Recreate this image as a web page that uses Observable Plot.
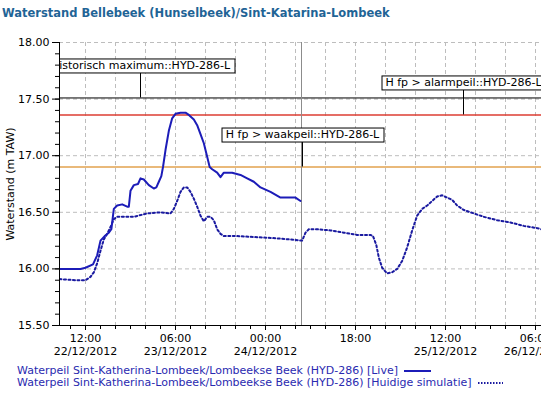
<!DOCTYPE html>
<html><head><meta charset="utf-8">
<script src="https://cdn.jsdelivr.net/npm/d3@7"></script>
<script src="https://cdn.jsdelivr.net/npm/@observablehq/plot@0.6"></script>
<style>
html,body{margin:0;padding:0;background:#fff;overflow:hidden;width:541px;height:394px;}
body{position:relative;font-family:"DejaVu Sans",Verdana,sans-serif;}
#title{position:absolute;left:2px;top:6px;font-size:11.5px;font-weight:bold;color:#1f6496;white-space:nowrap;}
#chart{position:absolute;left:0;top:28px;}
#legend{position:absolute;left:17px;top:365px;font-size:11px;color:#2a2ab0;line-height:12px;white-space:nowrap;}
#legend svg{vertical-align:middle;margin-left:6px;}
</style></head><body>
<div id="title"></div><div id="chart"></div><div id="legend"></div>
<script>
const title = "Waterstand Bellebeek (Hunselbeek)/Sint-Katarina-Lombeek";
const yLabel = "Waterstand (m TAW)";
const seriesNames = [
  "Waterpeil Sint-Katherina-Lombeek/Lombeekse Beek (HYD-286) [Live]",
  "Waterpeil Sint-Katherina-Lombeek/Lombeekse Beek (HYD-286) [Huidige simulatie]"
];
const seriesColors = ["#1c1cb8", "#1a1aa0"];

const liveTime = ["2012-12-22T06:48","2012-12-22T11:00","2012-12-22T12:00","2012-12-22T13:30","2012-12-22T14:20","2012-12-22T15:00","2012-12-22T15:50","2012-12-22T16:40","2012-12-22T17:10","2012-12-22T17:40","2012-12-22T18:20","2012-12-22T19:20","2012-12-22T20:20","2012-12-22T20:40","2012-12-22T21:00","2012-12-22T21:40","2012-12-22T22:30","2012-12-22T23:00","2012-12-22T23:40","2012-12-23T00:40","2012-12-23T01:40","2012-12-23T02:10","2012-12-23T02:40","2012-12-23T03:10","2012-12-23T03:30","2012-12-23T04:00","2012-12-23T04:40","2012-12-23T05:20","2012-12-23T06:00","2012-12-23T07:00","2012-12-23T08:00","2012-12-23T08:40","2012-12-23T09:40","2012-12-23T10:20","2012-12-23T11:00","2012-12-23T11:40","2012-12-23T12:20","2012-12-23T12:50","2012-12-23T13:20","2012-12-23T14:20","2012-12-23T15:00","2012-12-23T15:40","2012-12-23T16:20","2012-12-23T17:20","2012-12-23T19:00","2012-12-23T20:20","2012-12-23T21:40","2012-12-23T23:00","2012-12-24T01:00","2012-12-24T03:00","2012-12-24T05:00","2012-12-24T06:00","2012-12-24T07:00"];
const liveLevel = [16.00,16.00,16.01,16.04,16.12,16.25,16.29,16.32,16.35,16.53,16.56,16.57,16.55,16.55,16.69,16.74,16.75,16.80,16.79,16.74,16.71,16.72,16.77,16.82,16.90,17.05,17.22,17.33,17.37,17.38,17.38,17.36,17.32,17.27,17.19,17.11,16.99,16.90,16.88,16.85,16.81,16.85,16.85,16.85,16.83,16.80,16.77,16.72,16.68,16.63,16.63,16.63,16.60];

const simTime = ["2012-12-22T06:48","2012-12-22T10:00","2012-12-22T12:00","2012-12-22T13:00","2012-12-22T13:40","2012-12-22T14:20","2012-12-22T15:00","2012-12-22T15:40","2012-12-22T16:20","2012-12-22T17:00","2012-12-22T17:40","2012-12-22T18:20","2012-12-22T21:40","2012-12-23T00:20","2012-12-23T03:00","2012-12-23T05:00","2012-12-23T05:40","2012-12-23T06:20","2012-12-23T07:00","2012-12-23T07:40","2012-12-23T08:20","2012-12-23T09:00","2012-12-23T09:40","2012-12-23T10:20","2012-12-23T11:00","2012-12-23T11:40","2012-12-23T12:20","2012-12-23T13:00","2012-12-23T13:40","2012-12-23T14:20","2012-12-23T15:00","2012-12-23T15:40","2012-12-23T18:20","2012-12-23T22:20","2012-12-24T02:20","2012-12-24T05:00","2012-12-24T07:20","2012-12-24T08:00","2012-12-24T08:40","2012-12-24T10:20","2012-12-24T13:00","2012-12-24T15:40","2012-12-24T18:20","2012-12-24T21:00","2012-12-24T21:30","2012-12-24T22:10","2012-12-24T22:40","2012-12-24T23:20","2012-12-25T00:20","2012-12-25T01:20","2012-12-25T02:20","2012-12-25T03:20","2012-12-25T04:20","2012-12-25T05:20","2012-12-25T06:20","2012-12-25T07:20","2012-12-25T08:20","2012-12-25T09:20","2012-12-25T10:20","2012-12-25T11:20","2012-12-25T12:20","2012-12-25T13:20","2012-12-25T14:20","2012-12-25T15:40","2012-12-25T17:40","2012-12-25T19:40","2012-12-25T22:20","2012-12-26T01:00","2012-12-26T03:40","2012-12-26T06:20","2012-12-26T07:12"];
const simLevel = [15.91,15.90,15.90,15.93,15.97,16.05,16.16,16.26,16.31,16.37,16.44,16.46,16.46,16.49,16.50,16.49,16.53,16.60,16.68,16.72,16.72,16.68,16.62,16.55,16.47,16.42,16.46,16.46,16.43,16.35,16.31,16.29,16.29,16.28,16.27,16.26,16.25,16.32,16.35,16.35,16.34,16.32,16.30,16.30,16.29,16.21,16.10,16.01,15.96,15.97,16.00,16.07,16.19,16.34,16.47,16.53,16.56,16.60,16.64,16.65,16.63,16.61,16.56,16.52,16.49,16.46,16.43,16.41,16.38,16.36,16.35];

const thresholdNames = ["Historisch maximum::HYD-286-L", "H fp > alarmpeil::HYD-286-L", "H fp > waakpeil::HYD-286-L"];
const thresholdLevel = [17.51, 17.36, 16.90];
const thresholdLabelTime = ["2012-12-22T23:00", "2012-12-25T15:36", "2012-12-24T07:24"];
const thresholdColor = ["#000000", "#dc3c32", "#e2a24e"];
const thresholdWidth = [1, 1.5, 1.5];
const nowTime = "2012-12-24T07:12";

const xDomain = ["2012-12-22T06:48", "2012-12-26T07:12"];
const yDomain = [15.5, 18];
const yMajor = [15.5, 16.0, 16.5, 17.0, 17.5, 18.0];
const xTickTime = ["2012-12-22T12:00","2012-12-23T06:00","2012-12-24T00:00","2012-12-24T18:00","2012-12-25T12:00","2012-12-26T06:00"];
const xTickLabel = ["12:00\n22/12/2012","06:00\n23/12/2012","00:00\n24/12/2012","18:00","12:00\n25/12/2012","06:00\n26/12/2012"];

const T = s => new Date(s + "Z");
const live = liveTime.map((t, i) => ({t: T(t), v: liveLevel[i]}));
const sim = simTime.map((t, i) => ({t: T(t), v: simLevel[i]}));
const thresholds = thresholdNames.map((n, i) => ({name: n, v: thresholdLevel[i], t: T(thresholdLabelTime[i])}));
const x0 = T(xDomain[0]), x1 = T(xDomain[1]);
const xMinor = d3.utcHour.every(3).range(x0, x1);
const xGrid = d3.utcHour.every(6).range(x0, x1);
const yMinor = d3.range(155, 181).map(d => d / 10);
const labelMap = new Map(xTickTime.map((t, i) => [+T(t), xTickLabel[i]]));

document.getElementById("title").textContent = title;

const grid = {stroke: "#bdbdbd", strokeOpacity: 1, strokeDasharray: "4,3"};
const plot = Plot.plot({
  width: 541, height: 332,
  marginLeft: 59, marginRight: 0, marginTop: 14, marginBottom: 35,
  style: {fontFamily: "DejaVu Sans", fontSize: "11px", background: "white", color: "black"},
  x: {type: "utc", domain: [x0, x1], label: null, axis: null},
  y: {domain: yDomain, label: null, axis: null},
  marks: [
    Plot.gridY(yMajor, grid),
    Plot.gridX(xGrid, grid),
    ...thresholds.map((d, i) => Plot.ruleY([d.v], {stroke: thresholdColor[i], strokeWidth: thresholdWidth[i]})),
    Plot.ruleX([T(nowTime)], {stroke: "#8c8c8c"}),
    Plot.line(sim, {x: "t", y: "v", stroke: seriesColors[1], strokeWidth: 2, strokeDasharray: "2,2.5", clip: true}),
    Plot.line(live, {x: "t", y: "v", stroke: seriesColors[0], strokeWidth: 2, clip: true}),
    Plot.ruleX(thresholds, {x: "t", y1: "v", y2: "v", insetBottom: 25, stroke: "black"}),
    Plot.text(thresholds, {x: "t", y: "v", text: "name", dy: -32.5, lineAnchor: "middle", textAnchor: "middle", fill: "black", clip: true}),
    Plot.ruleY([yDomain[0]], {stroke: "black"}),
    Plot.ruleX([x0], {stroke: "black"}),
    Plot.axisY(yMinor, {tickSize: 4, fill: "none", label: null}),
    Plot.axisY(yMajor, {tickSize: 7, tickPadding: 3, tickFormat: d3.format(".2f"), label: null}),
    Plot.axisX(xMinor, {tickSize: 4, fill: "none", label: null}),
    Plot.axisX(xTickTime.map(T), {tickSize: 5, tickPadding: 3, tickFormat: d => labelMap.get(+d), lineHeight: 1.15, label: null}),
    Plot.text([yLabel], {frameAnchor: "left", rotate: -90, dx: -49, textAnchor: "middle", lineAnchor: "middle", fill: "black"})
  ]
});
document.getElementById("chart").appendChild(plot);

// boxes behind threshold labels
const svgNS = "http://www.w3.org/2000/svg";
Array.from(plot.querySelectorAll("text"))
  .filter(t => thresholdNames.includes(t.textContent))
  .forEach(t => {
    const b = t.getBBox();
    const r = document.createElementNS(svgNS, "rect");
    r.setAttribute("x", Math.round(b.x - 4) + 0.5);
    r.setAttribute("y", Math.round(b.y - 1) + 0.5);
    r.setAttribute("width", Math.round(b.width + 8));
    r.setAttribute("height", Math.round(b.height + 1));
    r.setAttribute("fill", "white");
    r.setAttribute("stroke", "black");
    r.setAttribute("stroke-width", "1");
    const tr = t.getAttribute("transform");
    if (tr) r.setAttribute("transform", tr);
    t.parentNode.insertBefore(r, t);
  });

// legend
const legend = document.getElementById("legend");
seriesNames.forEach((name, i) => {
  const row = document.createElement("div");
  row.textContent = name;
  const s = document.createElementNS(svgNS, "svg");
  s.setAttribute("width", i === 0 ? 27 : 25);
  s.setAttribute("height", 4);
  const l = document.createElementNS(svgNS, "line");
  l.setAttribute("x1", 0); l.setAttribute("x2", i === 0 ? 27 : 25);
  l.setAttribute("y1", 2); l.setAttribute("y2", 2);
  l.setAttribute("stroke", seriesColors[i]);
  l.setAttribute("stroke-width", 2);
  if (i === 1) l.setAttribute("stroke-dasharray", "1.5,1.5");
  s.appendChild(l);
  row.appendChild(s);
  legend.appendChild(row);
});
</script>
</body></html>
